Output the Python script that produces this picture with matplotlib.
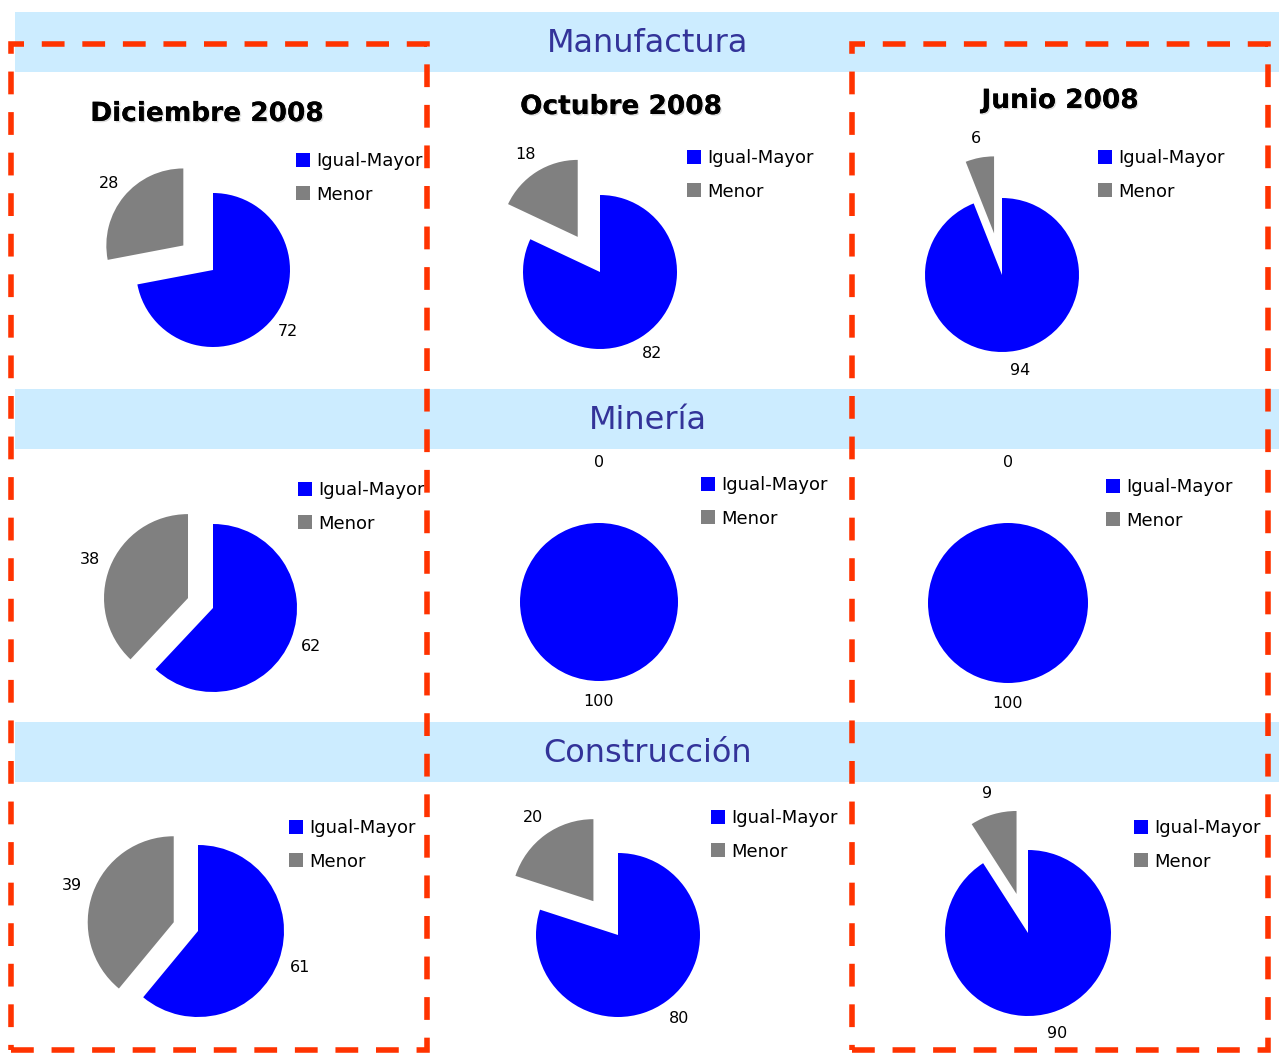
"""Pie grid: Igual-Mayor / Menor by sector and month."""

import matplotlib.pyplot as plt
from matplotlib import patheffects
from matplotlib.patches import Rectangle

# data
periods = ["Diciembre 2008", "Octubre 2008", "Junio 2008"]
sectors = ["Manufactura", "Minería", "Construcción"]
series = ["Igual-Mayor", "Menor"]
igual_mayor = [[72, 82, 94], [62, 100, 100], [61, 80, 90]]
menor = [[28, 18, 6], [38, 0, 0], [39, 20, 9]]

# layout (pixels in a 1279x1053 canvas)
W, H = 1279, 1053
pie_centers = [[(213, 270), (600, 272), (1002, 275)],
               [(213, 608), (599, 602), (1008, 603)],
               [(198, 931), (618, 935), (1028, 933)]]
pie_radii = [[77, 77, 77], [84, 79, 80], [86, 82, 83]]
pie_explode = [[0.5, 0.54, 0.55], [0.32, 0.5, 0.5], [0.3, 0.51, 0.49]]
legend_pos = [[(296, 160), (687, 157), (1098, 157)],
              [(298, 489), (701, 484), (1106, 486)],
              [(289, 827), (711, 817), (1134, 827)]]
title_pos = [(207, 114), (621, 107), (1060, 101)]
band_y = [(12, 72), (389, 449), (722, 782)]
band_title_y = [43, 420, 753]
boxes = [(11, 44, 427, 1050), (852, 44, 1268, 1050)]

colors = ["#0000FF", "#808080"]


def fx(x):
    return x / W


def fy(y):
    return 1 - y / H


fig = plt.figure(figsize=(W / 100, H / 100), dpi=100)

# light blue section bands
for (y0, y1), name, ty in zip(band_y, sectors, band_title_y):
    fig.add_artist(Rectangle((fx(15), fy(y1)), fx(W) - fx(15), fy(y0) - fy(y1),
                             transform=fig.transFigure, facecolor="#CCECFF",
                             edgecolor="none", zorder=-5))
    fig.text(fx(648), fy(ty), name, ha="center", va="center",
             fontsize=23, color="#333399")

# month titles (with a faint shadow)
for (tx, ty), name in zip(title_pos, periods):
    fig.text(fx(tx), fy(ty), name, ha="center", va="center",
             fontsize=19, fontweight="bold", color="black",
             path_effects=[patheffects.withSimplePatchShadow(offset=(1, -1),
                                                             shadow_rgbFace="#999999",
                                                             alpha=0.35),
                           patheffects.Normal()])

# pies
for i in range(3):
    for j in range(3):
        cx, cy = pie_centers[i][j]
        r = pie_radii[i][j]
        half = 2.0 * r
        ax = fig.add_axes([fx(cx - half), fy(cy + half), 2 * half / W, 2 * half / H])
        vals = [igual_mayor[i][j], menor[i][j]]
        wedges, texts = ax.pie(vals, colors=colors, startangle=90, counterclock=False,
                               explode=[0, pie_explode[i][j]],
                               labels=[str(v) for v in vals], labeldistance=1.26,
                               textprops=dict(fontsize=11.5),
                               wedgeprops=dict(linewidth=0))
        for t in texts:
            t.set_ha("center")
            t.set_va("center")
        ax.set_xlim(-2, 2)
        ax.set_ylim(-2, 2)
        ax.axis("off")

        lx, ly = legend_pos[i][j]
        ax.legend(wedges, series, loc="upper left",
                  bbox_to_anchor=(fx(lx), fy(ly - 8)),
                  bbox_transform=fig.transFigure, frameon=False, fontsize=13,
                  handlelength=0.78, handleheight=0.78, handletextpad=0.35,
                  labelspacing=0.86, borderpad=0, borderaxespad=0)

# red dashed boxes on top
for x0, y0, x1, y1 in boxes:
    fig.add_artist(Rectangle((fx(x0), fy(y1)), fx(x1) - fx(x0), fy(y0) - fy(y1),
                             transform=fig.transFigure, fill=False,
                             edgecolor="#FF3300", linewidth=4, capstyle="butt",
                             linestyle=(0, (4.1, 3.2)), zorder=10))

fig.savefig("out.png", dpi=100)
